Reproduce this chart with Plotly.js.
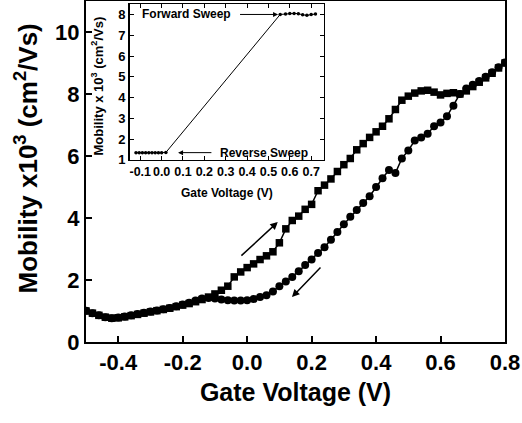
<!DOCTYPE html>
<html>
<head>
<meta charset="utf-8">
<script src="https://cdn.plot.ly/plotly-3.0.1.min.js"></script>
<style>html,body{margin:0;padding:0;background:#fff;}#chart{width:522px;height:423px;}</style>
</head>
<body>
<div id="chart"></div>
<script>
// Main chart: forward sweep (squares)
const forwardV = [-0.50,-0.48,-0.46,-0.44,-0.42,-0.40,-0.38,-0.36,-0.34,-0.32,-0.30,-0.28,-0.26,-0.24,-0.22,-0.20,-0.18,-0.16,-0.14,-0.12,-0.10,-0.08,-0.06,-0.04,-0.02,0.00,0.02,0.04,0.06,0.08,0.10,0.12,0.14,0.16,0.18,0.20,0.22,0.24,0.26,0.28,0.30,0.32,0.34,0.36,0.38,0.40,0.42,0.44,0.46,0.48,0.50,0.52,0.54,0.56,0.58,0.60,0.62,0.64,0.66,0.68,0.70,0.72,0.74,0.76,0.78,0.80];
const forwardMob = [1.00,0.93,0.86,0.80,0.77,0.78,0.81,0.85,0.89,0.93,0.97,1.01,1.05,1.09,1.14,1.19,1.24,1.30,1.37,1.45,1.55,1.67,1.80,2.10,2.26,2.40,2.52,2.66,2.78,2.91,3.20,3.65,3.92,4.06,4.28,4.44,4.88,5.06,5.26,5.50,5.72,5.92,6.20,6.40,6.60,6.78,6.96,7.20,7.50,7.80,7.93,8.03,8.10,8.12,8.06,7.97,8.02,8.04,8.00,8.10,8.24,8.38,8.52,8.67,8.84,9.00];
// Main chart: reverse sweep (circles)
const reverseV = [0.80,0.78,0.76,0.74,0.72,0.70,0.68,0.66,0.64,0.62,0.60,0.58,0.56,0.54,0.52,0.50,0.48,0.46,0.44,0.42,0.40,0.38,0.36,0.34,0.32,0.30,0.28,0.26,0.24,0.22,0.20,0.18,0.16,0.14,0.12,0.10,0.08,0.06,0.04,0.02,0.00,-0.02,-0.04,-0.06,-0.08,-0.10,-0.12,-0.14,-0.16,-0.18,-0.20,-0.22,-0.24,-0.26,-0.28,-0.30,-0.32,-0.34,-0.36,-0.38,-0.40,-0.42,-0.44,-0.46,-0.48,-0.50];
const reverseMob = [9.02,8.86,8.70,8.56,8.42,8.30,8.18,8.00,7.62,7.28,7.08,6.96,6.72,6.60,6.50,6.18,5.92,5.45,5.55,5.28,5.00,4.70,4.48,4.26,4.04,3.80,3.55,3.30,3.06,2.87,2.66,2.48,2.28,2.10,1.95,1.80,1.63,1.51,1.45,1.39,1.35,1.34,1.34,1.35,1.37,1.40,1.42,1.40,1.34,1.27,1.21,1.15,1.10,1.06,1.02,0.98,0.94,0.90,0.86,0.82,0.79,0.77,0.80,0.86,0.93,1.01];
// Inset
const insetV = [-0.12,-0.105,-0.09,-0.075,-0.06,-0.045,-0.03,-0.015,0.00,0.02,0.555,0.58,0.60,0.62,0.64,0.66,0.68,0.70,0.72];
const insetMob = [1.35,1.35,1.35,1.34,1.35,1.35,1.34,1.35,1.35,1.36,8.00,8.02,8.05,8.05,8.04,7.98,7.96,8.00,8.02];
const mainXTicks = [-0.4,-0.2,0.0,0.2,0.4,0.6,0.8];
const mainYTicks = [0,2,4,6,8,10];
const insetXTicks = [-0.1,0.0,0.1,0.2,0.3,0.4,0.5,0.6,0.7];
const insetYTicks = [1,2,3,4,5,6,7,8];

const FONT = 'Liberation Sans, Arial, sans-serif';
const fmt = v => (v < 0 ? '-' : '') + Math.abs(v).toFixed(1);

const traces = [
  {x: forwardV, y: forwardMob, type: 'scatter', mode: 'lines+markers', xaxis: 'x', yaxis: 'y',
   line: {color: '#000', width: 1.5}, marker: {symbol: 'square', size: 7.5, color: '#000'}},
  {x: reverseV, y: reverseMob, type: 'scatter', mode: 'lines+markers', xaxis: 'x', yaxis: 'y',
   line: {color: '#000', width: 1.5}, marker: {symbol: 'circle', size: 8, color: '#000'}},
  {x: insetV, y: insetMob, type: 'scatter', mode: 'lines+markers', xaxis: 'x2', yaxis: 'y2',
   line: {color: '#000', width: 1}, marker: {symbol: 'circle', size: 3.5, color: '#000'}}
];

const layout = {
  width: 522, height: 423,
  margin: {l: 86, r: 17, t: 1, b: 81},
  paper_bgcolor: '#fff', plot_bgcolor: 'rgba(0,0,0,0)',
  showlegend: false,
  font: {family: FONT, color: '#000'},
  xaxis: {
    range: [-0.5, 0.8], tickvals: mainXTicks, ticktext: mainXTicks.map(fmt),
    ticks: 'inside', ticklen: 6, tickwidth: 2, tickcolor: '#000',
    showline: true, linewidth: 2, linecolor: '#000', mirror: true,
    showgrid: false, zeroline: false,
    tickfont: {family: FONT, size: 22, weight: 'bold'},
    title: {text: 'Gate Voltage (V)', font: {family: FONT, size: 25, weight: 'bold'}, standoff: 9}
  },
  yaxis: {
    range: [0, 11], tickvals: mainYTicks,
    ticks: 'inside', ticklen: 6, tickwidth: 2, tickcolor: '#000',
    showline: true, linewidth: 2, linecolor: '#000', mirror: true,
    showgrid: false, zeroline: false,
    tickfont: {family: FONT, size: 22, weight: 'bold'}
  },
  xaxis2: {
    domain: [0.104, 0.568], anchor: 'y2', range: [-0.15, 0.76],
    tickvals: insetXTicks, ticktext: insetXTicks.map(fmt), tickangle: 0,
    ticks: 'inside', ticklen: 4, tickwidth: 1, tickcolor: '#000',
    showline: true, linewidth: 1.5, linecolor: '#000', mirror: 'ticks',
    showgrid: false, zeroline: false,
    tickfont: {family: FONT, size: 12.5, weight: 'bold'},
    title: {text: 'Gate Voltage (V)', font: {family: FONT, size: 12, weight: 'bold'}, standoff: 10}
  },
  yaxis2: {
    domain: [0.534, 0.991], anchor: 'x2', range: [1, 8.5],
    tickvals: insetYTicks,
    ticks: 'inside', ticklen: 4, tickwidth: 1, tickcolor: '#000',
    showline: true, linewidth: 1.5, linecolor: '#000', mirror: 'ticks',
    showgrid: false, zeroline: false,
    tickfont: {family: FONT, size: 13, weight: 'bold'}
  },
  annotations: [
    {xref: 'paper', yref: 'paper', x: -0.141, y: 0.538, xanchor: 'center', yanchor: 'middle', textangle: -90,
     showarrow: false, text: 'Mobility x10<sup>3</sup> (cm<sup>2</sup>/Vs)', font: {family: FONT, size: 26, weight: 'bold'}},
    {xref: 'paper', yref: 'paper', x: 0.026, y: 0.752, xanchor: 'center', yanchor: 'middle', textangle: -90,
     showarrow: false, text: 'Mobility x 10<sup>3</sup> (cm<sup>2</sup>/Vs)', font: {family: FONT, size: 13, weight: 'bold'}},
    {xref: 'x', yref: 'y', x: 0.095, y: 3.87, axref: 'x', ayref: 'y', ax: -0.0225, ay: 2.74,
     text: '', showarrow: true, arrowhead: 2, arrowsize: 1, arrowwidth: 1.5, arrowcolor: '#000'},
    {xref: 'x', yref: 'y', x: 0.139, y: 1.45, axref: 'x', ayref: 'y', ax: 0.232, ay: 2.45,
     text: '', showarrow: true, arrowhead: 2, arrowsize: 1, arrowwidth: 1.5, arrowcolor: '#000'},
    {xref: 'x2', yref: 'y2', x: 0.545, y: 8.0, axref: 'x2', ayref: 'y2', ax: 0.36, ay: 8.0,
     text: '', showarrow: true, arrowhead: 2, arrowsize: 1, arrowwidth: 1, arrowcolor: '#000'},
    {xref: 'x2', yref: 'y2', x: 0.077, y: 1.35, axref: 'x2', ayref: 'y2', ax: 0.24, ay: 1.35,
     text: '', showarrow: true, arrowhead: 2, arrowsize: 1, arrowwidth: 1, arrowcolor: '#000'},
    {xref: 'x2', yref: 'y2', x: 0.335, y: 8.0, xanchor: 'right', yanchor: 'middle', showarrow: false,
     text: 'Forward Sweep', font: {family: FONT, size: 12, weight: 'bold'}},
    {xref: 'x2', yref: 'y2', x: 0.262, y: 1.35, xanchor: 'left', yanchor: 'middle', showarrow: false,
     text: 'Reverse Sweep', font: {family: FONT, size: 12, weight: 'bold'}}
  ]
};

Plotly.newPlot('chart', traces, layout, {displayModeBar: false, staticPlot: true});
</script>
</body>
</html>
